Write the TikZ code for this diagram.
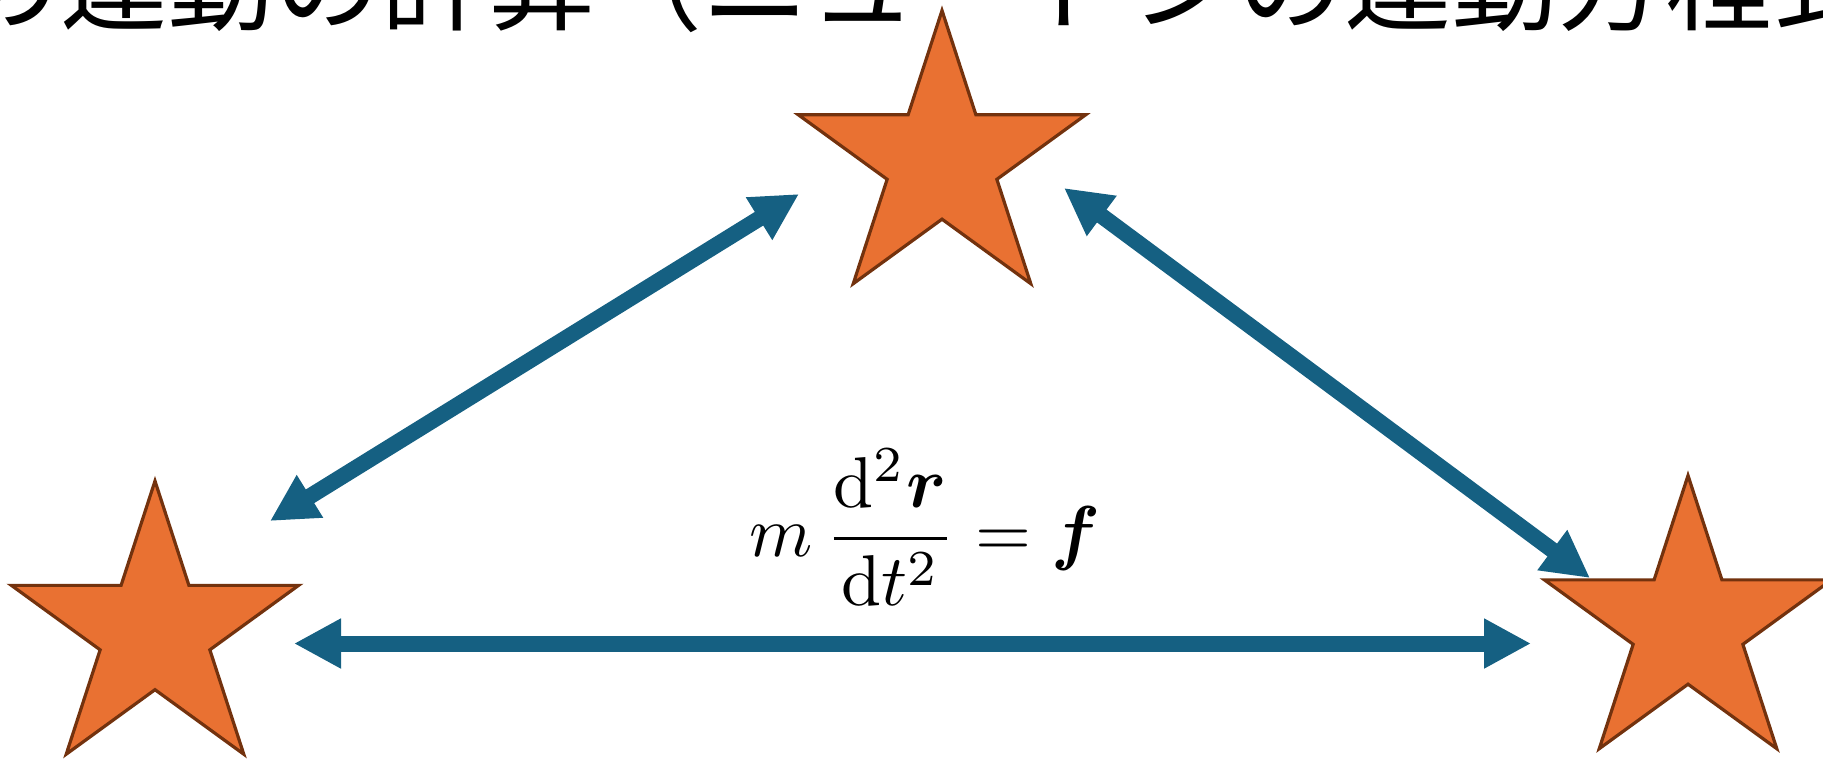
\documentclass[tikz,border=0pt]{standalone}
\usepackage{amsmath}
\usepackage{graphicx}
\usepackage{fontspec}
\newfontfamily\jpfont{Noto Sans CJK JP}
\usetikzlibrary{shapes.geometric,arrows.meta}
\definecolor{starfill}{HTML}{E97132}
\definecolor{staredge}{HTML}{73320E}
\definecolor{arrowblue}{HTML}{156082}
\begin{document}
\begin{tikzpicture}[x=0.5pt,y=-0.5pt,
  starnode/.style={star, star points=5, star point ratio=2.618, minimum size=151pt,
    draw=staredge, fill=starfill, line width=1.6pt, inner sep=0pt},
  conn/.style={draw=arrowblue, fill=arrowblue, line width=8pt,
    {Triangle[length=23.5pt,width=23.5pt]}-{Triangle[length=23.5pt,width=23.5pt]}},
  titletext/.style={anchor=base west, inner sep=0pt, font=\jpfont\fontsize{53.5}{60}\selectfont},
  eqtext/.style={inner sep=0pt}]
\useasboundingbox (0,0) rectangle (1823,762);
\clip (0,0) rectangle (1823,762);
\node[titletext] (title) at (-47,22) {の運動の計算（ニュートンの運動方程式};
\node[starnode] (top) at (942,161.5) {};
\node[starnode] (left) at (155,632) {};
\node[starnode] (right) at (1688,626.5) {};
\coordinate (a1) at (270,521);
\coordinate (a2) at (799,194);
\coordinate (b1) at (1064,188);
\coordinate (b2) at (1590,578);
\coordinate (c1) at (294,643.5);
\coordinate (c2) at (1531,643.5);
\draw[conn] (a1) -- (a2);
\draw[conn] (b1) -- (b2);
\draw[conn] (c1) -- (c2);
\node[eqtext] (eq) at (925,528) {\scalebox{3.6}{$m\,\dfrac{\mathrm{d}^2\boldsymbol{r}}{\mathrm{d}t^2}=\boldsymbol{f}$}};
\end{tikzpicture}
\end{document}
